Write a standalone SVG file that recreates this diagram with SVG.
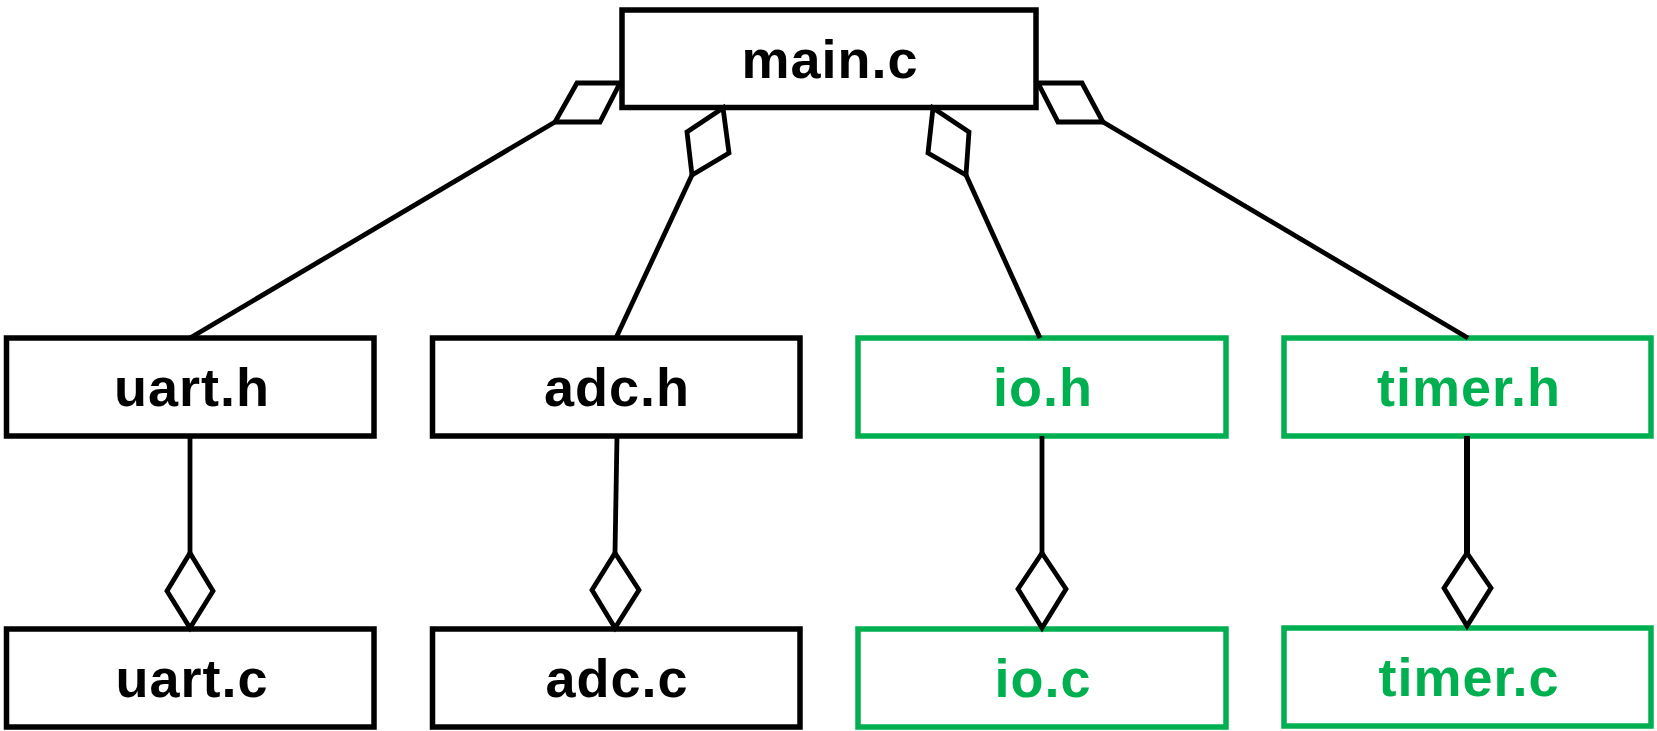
<svg xmlns="http://www.w3.org/2000/svg" width="1657" height="731" viewBox="0 0 1657 731">
<style>
.box{fill:#fff;stroke:#000;stroke-width:5.5}
.gbox{fill:#fff;stroke:#00B050;stroke-width:5.5}
.lbl{font-family:"Liberation Sans",Arial,sans-serif;font-weight:bold;font-size:54px;letter-spacing:1px;text-anchor:middle;fill:#000}
.glbl{font-family:"Liberation Sans",Arial,sans-serif;font-weight:bold;font-size:54px;letter-spacing:1px;text-anchor:middle;fill:#00B050}
.ln{stroke:#000;stroke-width:4.8;fill:none}
.dm{fill:#fff;stroke:#000;stroke-width:4.8;stroke-linejoin:miter}
</style>
<rect width="1657" height="731" fill="#fff"/>
<g id="main_c"><rect class="box" x="622" y="10" width="414" height="97.5"/><text class="lbl" x="830" y="78">main.c</text></g>
<g id="uart_h"><rect class="box" x="6.5" y="338" width="367.5" height="98"/><text class="lbl" x="192" y="406">uart.h</text></g>
<g id="adc_h"><rect class="box" x="432.5" y="338" width="367.5" height="98"/><text class="lbl" x="617" y="406">adc.h</text></g>
<g id="io_h"><rect class="gbox" x="858" y="338" width="368" height="98"/><text class="glbl" x="1043" y="406">io.h</text></g>
<g id="timer_h"><rect class="gbox" x="1284" y="338" width="367" height="98"/><text class="glbl" x="1469" y="406">timer.h</text></g>
<g id="uart_c"><rect class="box" x="6.5" y="629" width="367.5" height="98"/><text class="lbl" x="192" y="697">uart.c</text></g>
<g id="adc_c"><rect class="box" x="432.5" y="629" width="367.5" height="98"/><text class="lbl" x="617" y="697">adc.c</text></g>
<g id="io_c"><rect class="gbox" x="858" y="629" width="368" height="98"/><text class="glbl" x="1043" y="697">io.c</text></g>
<g id="timer_c"><rect class="gbox" x="1284" y="628" width="367" height="98"/><text class="glbl" x="1469" y="696">timer.c</text></g>
<g id="connectors">
<line class="ln" x1="555" y1="122" x2="190" y2="338"/>
<polygon class="dm" points="620,83 577,83 555,122 600,122"/>
<line class="ln" x1="692" y1="175" x2="616" y2="338"/>
<polygon class="dm" points="723,108 687,132 692,175 729,153"/>
<line class="ln" x1="966" y1="175" x2="1040" y2="338"/>
<polygon class="dm" points="933,108 969,132 966,175 928,153"/>
<line class="ln" x1="1103" y1="122" x2="1468" y2="338"/>
<polygon class="dm" points="1038,83 1082,83 1103,122 1058,122"/>
<line class="ln" x1="190" y1="436" x2="190" y2="553"/>
<polygon class="dm" points="190,553 213,591 190,628 167,591"/>
<line class="ln" x1="617" y1="436" x2="615" y2="553"/>
<polygon class="dm" points="615,553 639,590 615,628 592,590"/>
<line class="ln" x1="1042" y1="436" x2="1042" y2="553"/>
<polygon class="dm" points="1042,553 1066,589 1042,628 1018,589"/>
<line class="ln" x1="1467" y1="436" x2="1467" y2="553" style="stroke-width:6"/>
<polygon class="dm" points="1467,553 1491,588 1467,626 1444,588"/>
</g>
</svg>
